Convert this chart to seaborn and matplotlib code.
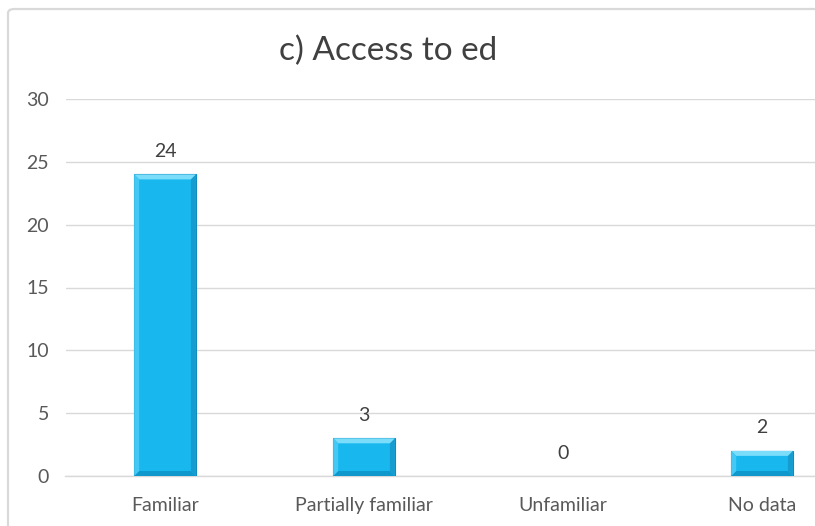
import matplotlib
matplotlib.use("Agg")
import matplotlib.pyplot as plt
import seaborn as sns
import pandas as pd
from matplotlib.patches import FancyBboxPatch, Polygon

categories = ["Familiar", "Partially familiar", "Unfamiliar", "No data"]
counts = [24, 3, 0, 2]
y_ticks = [0, 5, 10, 15, 20, 25, 30]
title = "c) Access to ed"

sns.set_theme(style="white")
plt.rcParams["font.family"] = ["Lato", "DejaVu Sans"]

df = pd.DataFrame({"category": categories, "count": counts})

fig = plt.figure(figsize=(8.15, 5.26), dpi=100)
fig.patch.set_facecolor("white")

# chart frame
frame = FancyBboxPatch((8 / 815, -0.05), 1.2, 1 - 9 / 526 + 0.05,
                       boxstyle="round,pad=0,rounding_size=0.008",
                       transform=fig.transFigure, facecolor="none",
                       edgecolor="#D9D9D9", linewidth=1.6, zorder=-1)
fig.patches.append(frame)

ax = fig.add_axes([65.5 / 815, 1 - 476 / 526, 796 / 815, (476 - 99) / 526])
ax.set_facecolor("none")

sns.barplot(data=df, x="category", y="count", ax=ax, width=0.31,
            color="#18B8EF", saturation=1, edgecolor="#0C8CC0",
            linewidth=0.8, zorder=3)

ax.set_ylim(0, 30)
ax.set_xlim(-0.5, len(categories) - 0.5)
ax.set_yticks(y_ticks)
ax.yaxis.grid(True, color="#D9D9D9", linewidth=1)
ax.set_axisbelow(True)
for s in ["top", "right", "left"]:
    ax.spines[s].set_visible(False)
ax.spines["bottom"].set_color("#D9D9D9")
ax.spines["bottom"].set_linewidth(1)
ax.set_xlabel("")
ax.set_ylabel("")
ax.tick_params(axis="both", length=0, colors="#595959", labelsize=14)
ax.tick_params(axis="y", pad=12)
ax.tick_params(axis="x", pad=15)

# bevelled edges on each bar
fig.canvas.draw()
inv = ax.transData.inverted()
bev = 5
for p in ax.patches:
    if p.get_height() <= 0:
        p.set_edgecolor("none")
        continue
    x0, y0 = p.get_x(), p.get_y()
    x1, y1 = x0 + p.get_width(), y0 + p.get_height()
    (px0, py0) = ax.transData.transform((x0, y0))
    (px1, py1) = ax.transData.transform((x1, y1))

    def d(px, py):
        return inv.transform((px, py))
    outer = [d(px0, py0), d(px1, py0), d(px1, py1), d(px0, py1)]
    inner = [d(px0 + bev, py0 + bev), d(px1 - bev, py0 + bev),
             d(px1 - bev, py1 - bev), d(px0 + bev, py1 - bev)]
    shades = [("#0F98CC", [outer[0], outer[1], inner[1], inner[0]]),  # bottom
              ("#179CCF", [outer[1], outer[2], inner[2], inner[1]]),  # right
              ("#7CDDFB", [outer[2], outer[3], inner[3], inner[2]]),  # top
              ("#45C9F4", [outer[3], outer[0], inner[0], inner[3]])]  # left
    for col, pts in shades:
        ax.add_patch(Polygon(pts, closed=True, facecolor=col,
                             edgecolor="none", zorder=4))

for i, v in enumerate(counts):
    ax.annotate(str(v), (i, v), xytext=(0, 16.5), textcoords="offset points",
                ha="center", va="center", fontsize=14, color="#404040")

fig.text(388 / 815, 1 - 51 / 526, title, ha="center", va="center",
         fontsize=24, color="#404040")

fig.savefig("out.png", dpi=100, facecolor="white")
